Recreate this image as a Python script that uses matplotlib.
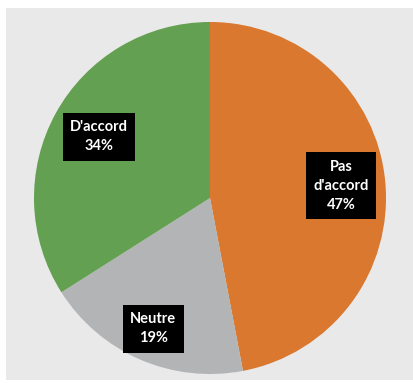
import numpy as np
import matplotlib
matplotlib.use("Agg")
import matplotlib.pyplot as plt
from matplotlib.patches import Rectangle

labels = ["Pas\nd'accord", "Neutre", "D'accord"]
values = [47, 19, 34]
colors = ["#d9782e", "#b3b4b6", "#63a051"]
label_dist = [0.75, 0.81, 0.72]

W, H = 413, 383
fig = plt.figure(figsize=(W / 100, H / 100), dpi=100, facecolor="white")

# light gray panel behind the pie
bg = fig.add_axes([0, 0, 1, 1], zorder=0)
bg.set_xlim(0, W)
bg.set_ylim(H, 0)
bg.axis("off")
bg.add_patch(Rectangle((6, 8), W - 6, 372, facecolor="#e9e9e9", edgecolor="none"))

cx, cy, r = 210, 198, 176
ax = fig.add_axes([(cx - r) / W, (H - cy - r) / H, 2 * r / W, 2 * r / H], zorder=1)
ax.set_facecolor("none")

wedges, _ = ax.pie(values, colors=colors, startangle=90, counterclock=False,
                   wedgeprops=dict(linewidth=0))

for w, lab, v, d in zip(wedges, labels, values, label_dist):
    ang = np.deg2rad((w.theta1 + w.theta2) / 2)
    ax.text(d * np.cos(ang), d * np.sin(ang), f"{lab}\n{v}%",
            ha="center", va="center", color="white", fontsize=10.5,
            fontweight="bold", family=["Lato", "DejaVu Sans"], linespacing=1.45,
            bbox=dict(boxstyle="square,pad=0.5", facecolor="black", edgecolor="none"))

ax.set_xlim(-1, 1)
ax.set_ylim(-1, 1)
ax.set_aspect("equal")
ax.axis("off")

fig.savefig("out.png", dpi=100, facecolor="white")
